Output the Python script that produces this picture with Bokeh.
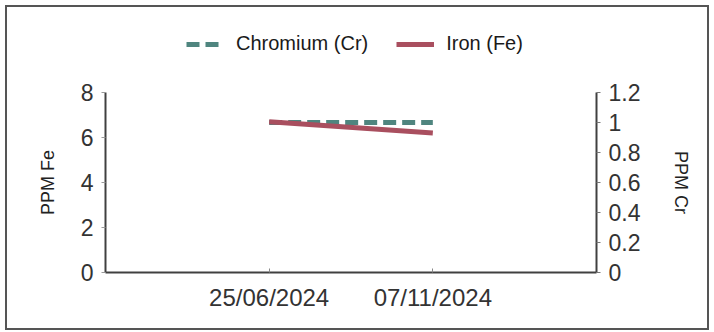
from bokeh.plotting import figure
from bokeh.layouts import column
from bokeh.models import Range1d, LinearAxis, Legend, LegendItem, FixedTicker, ColumnDataSource
from bokeh.embed import file_html
from bokeh.resources import INLINE

# ---- data ----
dates = ["25/06/2024", "07/11/2024"]
iron_fe = [6.7, 6.2]
chromium_cr = [1.0, 1.0]
fe_ticks = [0, 2, 4, 6, 8]
cr_ticks = [0, 0.2, 0.4, 0.6, 0.8, 1.0, 1.2]
series_names = ["Chromium (Cr)", "Iron (Fe)"]

xs = list(range(1, len(dates) + 1))
src = ColumnDataSource(dict(x=xs, fe=iron_fe, cr=chromium_cr))

FONT = "Liberation Sans"
TEAL = "#4f857f"
RED = "#a94f5f"
AXC = "#404040"
CR_STYLE = dict(line_color=TEAL, line_width=5, line_dash="13 6")
FE_STYLE = dict(line_color=RED, line_width=5)

W = 700

# ---------- main chart ----------
p = figure(width=W, height=268, output_backend="svg", toolbar_location=None,
           x_range=Range1d(0, len(dates) + 1), y_range=Range1d(0, fe_ticks[-1]),
           min_border_left=98, min_border_right=111, min_border_top=32, min_border_bottom=56)
p.outline_line_color = None
p.xgrid.visible = False
p.ygrid.visible = False
p.background_fill_color = "white"
p.border_fill_color = "white"
p.extra_y_ranges = {"cr": Range1d(0, cr_ticks[-1])}

xa = p.xaxis[0]
xa.ticker = FixedTicker(ticks=xs)
xa.major_label_overrides = {x: d for x, d in zip(xs, dates)}
xa.major_label_text_font = FONT
xa.major_label_text_font_size = "24px"
xa.major_label_text_color = "#333333"
xa.axis_line_color = AXC
xa.axis_line_width = 2
xa.major_tick_line_color = "#888888"
xa.major_tick_in = 4
xa.major_tick_out = 0
xa.minor_tick_line_color = None
xa.major_label_standoff = 11

ya = p.yaxis[0]
ya.ticker = FixedTicker(ticks=fe_ticks)
ya.axis_label = "PPM Fe"
ya.axis_label_text_font = FONT
ya.axis_label_text_font_size = "18px"
ya.axis_label_text_font_style = "normal"
ya.axis_label_text_color = "#222222"
ya.axis_label_standoff = 20
ya.major_label_text_font = FONT
ya.major_label_text_font_size = "23px"
ya.major_label_text_color = "#333333"
ya.axis_line_color = AXC
ya.axis_line_width = 2
ya.major_tick_line_color = "#999999"
ya.major_tick_out = 4
ya.major_tick_in = 0
ya.minor_tick_line_color = None
ya.major_label_standoff = 8

ra = LinearAxis(y_range_name="cr", ticker=FixedTicker(ticks=cr_ticks))
ra.major_label_overrides = {t: ("%g" % t) for t in cr_ticks}
ra.axis_label = "PPM Cr"
ra.axis_label_text_font = FONT
ra.axis_label_text_font_size = "18px"
ra.axis_label_text_font_style = "normal"
ra.axis_label_text_color = "#222222"
ra.axis_label_standoff = 28
ra.major_label_text_font = FONT
ra.major_label_text_font_size = "23px"
ra.major_label_text_color = "#333333"
ra.axis_line_color = AXC
ra.axis_line_width = 2
ra.major_tick_line_color = "#777777"
ra.major_tick_out = 4
ra.major_tick_in = 0
ra.minor_tick_line_color = None
ra.major_label_standoff = 8
p.add_layout(ra, "right")

p.line("x", "cr", source=src, y_range_name="cr", **CR_STYLE)
p.line("x", "fe", source=src, **FE_STYLE)

# ---------- legend strip (its frame is aligned with the chart's frame by the column) ----------
lg = figure(width=W, height=53, output_backend="svg", toolbar_location=None,
            x_range=Range1d(0, len(dates) + 1), y_range=Range1d(100, 101),
            x_axis_location=None, y_axis_location=None,
            min_border_left=0, min_border_right=0, min_border_top=0, min_border_bottom=0)
lg.outline_line_color = None
lg.xgrid.visible = False
lg.ygrid.visible = False
lg.border_fill_color = "white"
lg.background_fill_color = "white"
# same series, lying outside this strip's (empty) view; they only feed the legend keys
k_cr = lg.line("x", "cr", source=src, **CR_STYLE)
k_fe = lg.line("x", "fe", source=src, **FE_STYLE)
legend = Legend(items=[LegendItem(label=series_names[0], renderers=[k_cr]),
                       LegendItem(label=series_names[1], renderers=[k_fe])],
                orientation="horizontal", location=(81, 5),
                label_text_font=FONT, label_text_font_size="20px", label_text_color="#1a1a1a",
                glyph_width=38, glyph_height=20, label_height=20, label_standoff=12,
                spacing=28, padding=0, margin=0,
                border_line_color=None, background_fill_alpha=0)
lg.add_layout(legend, "center")

layout = column(lg, p, spacing=0, width=W, height=321)
layout.styles = {"margin": "7px 0 0 7px", "outline": "2px solid #555"}

open("out.html", "w").write(file_html(layout, INLINE))
